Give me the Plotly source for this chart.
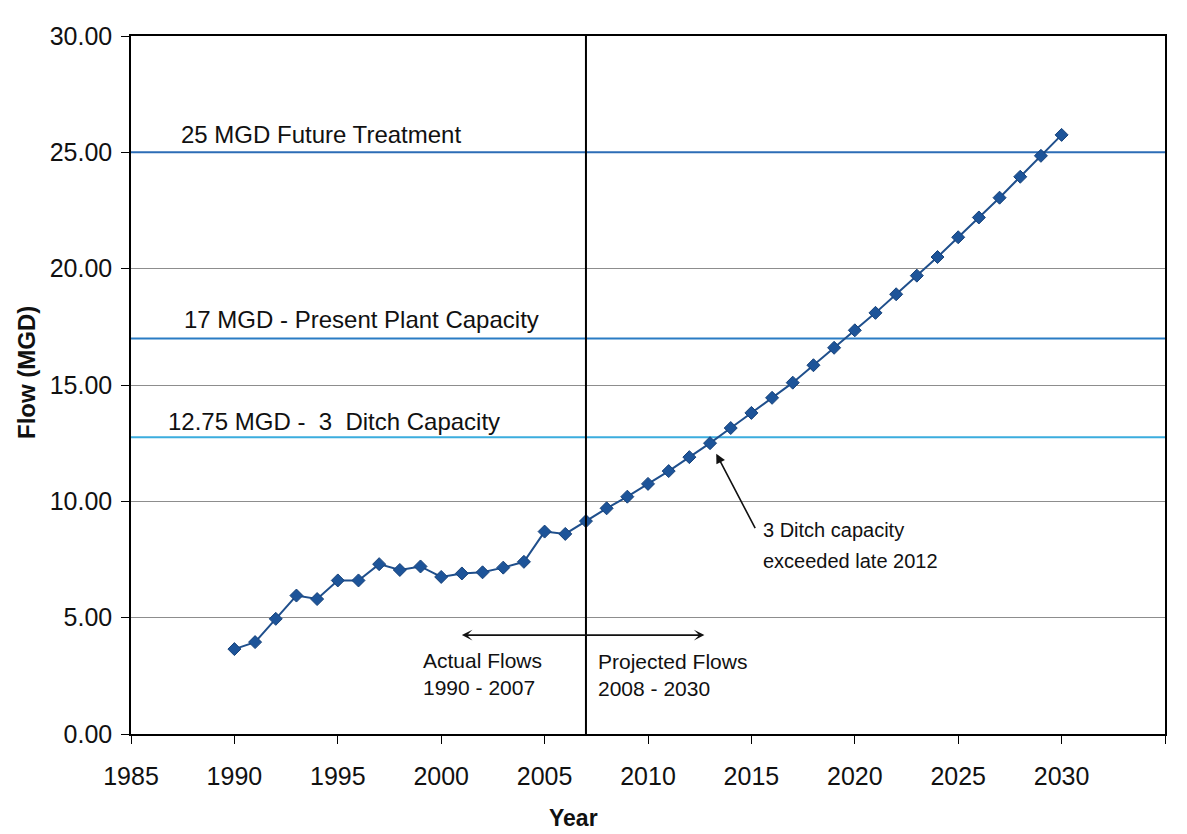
import plotly.graph_objects as go

# Annual flow, actual (1990-2007) and projected (2008-2030), MGD
years = [1990, 1991, 1992, 1993, 1994, 1995, 1996, 1997, 1998, 1999,
         2000, 2001, 2002, 2003, 2004, 2005, 2006, 2007, 2008, 2009,
         2010, 2011, 2012, 2013, 2014, 2015, 2016, 2017, 2018, 2019,
         2020, 2021, 2022, 2023, 2024, 2025, 2026, 2027, 2028, 2029, 2030]
flows = [3.65, 3.95, 4.95, 5.95, 5.80, 6.60, 6.60, 7.30, 7.05, 7.20,
         6.75, 6.90, 6.95, 7.15, 7.40, 8.70, 8.60, 9.15, 9.70, 10.20,
         10.75, 11.30, 11.90, 12.50, 13.15, 13.80, 14.45, 15.10, 15.85, 16.60,
         17.35, 18.10, 18.90, 19.70, 20.50, 21.35, 22.20, 23.05, 23.95, 24.85, 25.75]

# Capacity levels (MGD) and their labels
capacity_values = [25.0, 17.0, 12.75]
capacity_labels = ["25 MGD Future Treatment",
                   "17 MGD - Present Plant Capacity",
                   "12.75 MGD -\u00a0 3\u00a0 Ditch Capacity"]
capacity_colors = ["#2c6db6", "#2a7cc4", "#3badde"]
capacity_label_pos = [(1987.3, 25.75), (1987.45, 17.83), (1986.67, 13.42)]

x_range = [1985, 2035]
y_range = [0, 30]
split_year = 2007

FONT = "Liberation Sans, Arial, sans-serif"

fig = go.Figure()

for val, col in zip(capacity_values, capacity_colors):
    fig.add_trace(go.Scatter(
        x=x_range, y=[val, val], mode="lines",
        line=dict(color=col, width=2), hoverinfo="skip", showlegend=False))

fig.add_trace(go.Scatter(
    x=years, y=flows, mode="lines+markers",
    line=dict(color="#1f4f8c", width=2),
    marker=dict(symbol="diamond", size=10, color="#1d5499",
                line=dict(color="#17427a", width=1)),
    showlegend=False))

# Boundary between actual and projected flows
fig.add_shape(type="line", x0=split_year, x1=split_year, y0=y_range[0], y1=y_range[1],
              xref="x", yref="y", line=dict(color="black", width=2))

annotations = []
for (lx, ly), txt in zip(capacity_label_pos, capacity_labels):
    annotations.append(dict(x=lx, y=ly, xref="x", yref="y", text=txt,
                            showarrow=False, xanchor="left", yanchor="middle",
                            font=dict(family=FONT, size=24, color="#111111")))

# Double-headed arrow for actual / projected periods
annotations.append(dict(x=2001.0, y=4.25, ax=2012.8, ay=4.25, xref="x", yref="y",
                        axref="x", ayref="y", text="", showarrow=True,
                        arrowside="end+start", arrowhead=3, startarrowhead=3,
                        arrowsize=1.1, startarrowsize=1.1, arrowwidth=1.6,
                        arrowcolor="#111111"))
annotations.append(dict(x=1999.0, y=2.6, xref="x", yref="y",
                        text="Actual Flows<br>1990 - 2007", showarrow=False,
                        xanchor="left", yanchor="middle", align="left",
                        font=dict(family=FONT, size=21, color="#111111")))
annotations.append(dict(x=2007.5, y=2.54, xref="x", yref="y",
                        text="Projected Flows<br>2008 - 2030", showarrow=False,
                        xanchor="left", yanchor="middle", align="left",
                        font=dict(family=FONT, size=21, color="#111111")))

# Note on exceeding the 3 ditch capacity
annotations.append(dict(x=2013.3, y=12.05, ax=2015.22, ay=8.78, xref="x", yref="y",
                        axref="x", ayref="y", text="", showarrow=True,
                        arrowhead=2, arrowsize=1.2, arrowwidth=1.6,
                        arrowcolor="#111111"))
annotations.append(dict(x=2015.45, y=8.77, xref="x", yref="y",
                        text="3 Ditch capacity", showarrow=False,
                        xanchor="left", yanchor="middle",
                        font=dict(family=FONT, size=20, color="#111111")))
annotations.append(dict(x=2015.45, y=7.44, xref="x", yref="y",
                        text="exceeded late 2012", showarrow=False,
                        xanchor="left", yanchor="middle",
                        font=dict(family=FONT, size=20, color="#111111")))

# Axis titles
annotations.append(dict(x=0, y=0.5, xref="paper", yref="paper", xshift=-105, yshift=12,
                        text="<b>Flow (MGD)</b>", textangle=-90, showarrow=False,
                        xanchor="center", yanchor="middle",
                        font=dict(family=FONT, size=24, color="#111111")))
annotations.append(dict(x=0.428, y=0, xref="paper", yref="paper", yshift=-84,
                        text="<b>Year</b>", showarrow=False,
                        xanchor="center", yanchor="middle",
                        font=dict(family=FONT, size=23, color="#111111")))

fig.update_layout(
    width=1187, height=834,
    margin=dict(l=131, r=22, t=36, b=100),
    paper_bgcolor="white", plot_bgcolor="white",
    font=dict(family=FONT, size=25, color="#111111"),
    annotations=annotations,
)

fig.update_xaxes(
    range=x_range, tick0=1985, dtick=5, showgrid=False, zeroline=False,
    showline=True, mirror=True, linecolor="black", linewidth=1.5,
    ticks="outside", ticklen=8, tickwidth=1.2, tickcolor="black",
    ticklabelstandoff=11, tickfont=dict(family=FONT, size=25, color="#111111"))
fig.update_yaxes(
    range=y_range, tick0=0, dtick=5, tickformat=".2f",
    showgrid=True, gridcolor="#8d8d8d", gridwidth=1, zeroline=False,
    showline=True, mirror=True, linecolor="black", linewidth=1.5,
    ticks="outside", ticklen=8, tickwidth=1.2, tickcolor="black",
    ticklabelstandoff=4, tickfont=dict(family=FONT, size=25, color="#111111"))

fig.write_html("out.html")
